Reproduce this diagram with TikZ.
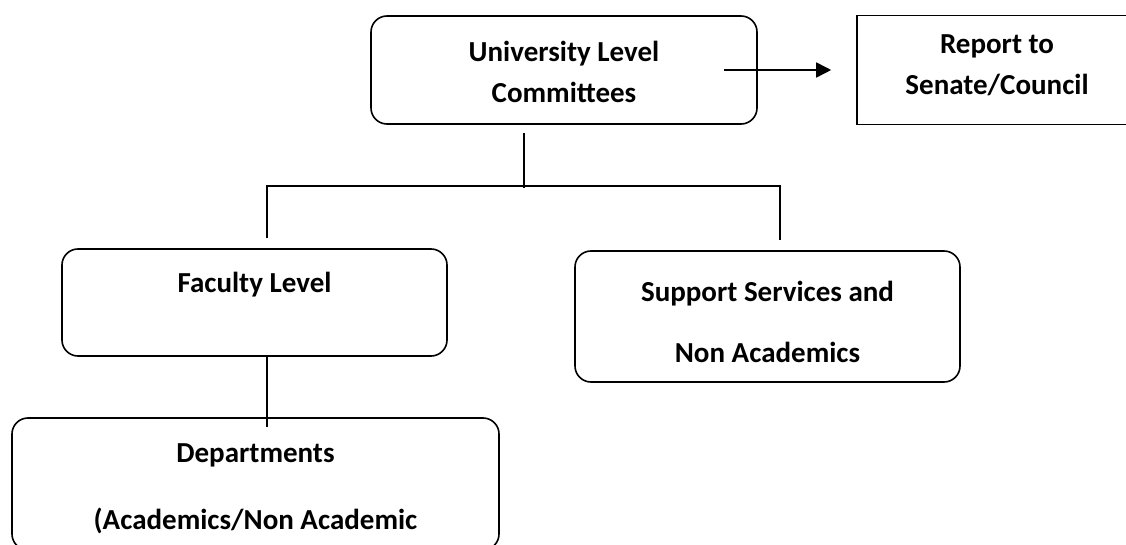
\documentclass[tikz,border=0pt]{standalone}
\usepackage{fontspec}
\setmainfont{Carlito}
\usetikzlibrary{arrows.meta}
\tikzset{levelbox/.style = {draw, rounded corners=16pt, align=center, inner sep=0,
    font=\bfseries\fontsize{29}{41}\selectfont}}
\tikzset{reportbox/.style = {levelbox, sharp corners}}

\begin{document}
\begin{tikzpicture}[x=1pt, y=-1pt, line width=1.6pt]
  \clip (0,0) rectangle (1126,545);

  % boxes, placed at their centres
  \node [levelbox, minimum width=386pt, minimum height=108pt, text height=70pt, text depth=4pt]
    (uni) at (564,70) {University Level\\Committees};
  \node [reportbox, minimum width=280pt, minimum height=109pt, text height=54pt, text depth=4pt]
    (report) at (997,70) {Report to\\Senate/Council};
  \node [levelbox, minimum width=385pt, minimum height=107pt, text height=20pt, text depth=41pt]
    (faculty) at (254.5,302.5) {Faculty Level};
  \node [levelbox, minimum width=385pt, minimum height=131pt, text height=95pt, text depth=4pt]
    (support) at (767.5,316.5) {Support Services and\\[20pt]Non Academics};
  \node [levelbox, minimum width=487pt, minimum height=132pt, text height=94pt, text depth=4pt]
    (dept) at (255.5,484) {Departments\\[26pt](Academics/Non Academic};

  % reporting line
  \draw [-{Triangle[length=15pt, width=15pt]}] ([xshift=-34pt]uni.east) -- ([xshift=-25pt]report.west);

  % tree below the committees
  \draw ([xshift=-40pt, yshift=-8pt]uni.south) -- ++(0,55);
  \draw ([xshift=12.5pt, yshift=10pt]faculty.north) -- ++(0,-52)
    -| ([xshift=12.5pt, yshift=10pt]support.north);
  \draw ([xshift=12.5pt]faculty.south) -- ([xshift=11.5pt, yshift=-10pt]dept.north);
\end{tikzpicture}
\end{document}
